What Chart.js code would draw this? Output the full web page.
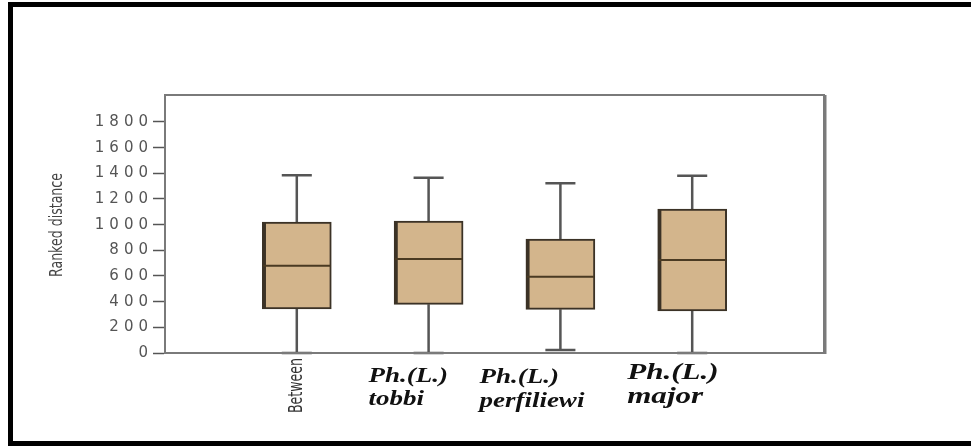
<!DOCTYPE html>
<html>
<head>
<meta charset="utf-8">
<script src="https://cdn.jsdelivr.net/npm/chart.js@4/dist/chart.umd.min.js"></script>
<style>
  html, body { margin: 0; padding: 0; background: #fff; overflow: hidden; }
  #wrap { position: relative; width: 971px; height: 446px; }
  #frame {
    position: absolute; left: 8px; top: 2px; width: 1000px; height: 444px;
    border: 5px solid #000; box-sizing: border-box; pointer-events: none;
  }
  canvas { position: absolute; left: 0; top: 0; }
</style>
</head>
<body>
<div id="wrap">
  <canvas id="chart" width="971" height="446"></canvas>
  <div id="frame"></div>
</div>
<script>
"use strict";
// groups, left to right
const CATEGORIES = ["Between", "Ph.(L.) tobbi", "Ph.(L.) perfiliewi", "Ph.(L.) major"];
const LABEL_LINES = [["Between"], ["Ph.(L.)", "tobbi"], ["Ph.(L.)", "perfiliewi"], ["Ph.(L.)", "major"]];
const POSITIONS = [1, 2, 3, 4];
// box plot values
const WHISKER_MIN = [0, 0, 23, 0];
const Q1 = [343, 379, 340, 327];
const MEDIAN = [680, 732, 595, 725];
const Q3 = [1020, 1028, 888, 1122];
const WHISKER_MAX = [1384, 1366, 1322, 1381];
const Y_TICKS = [0, 200, 400, 600, 800, 1000, 1200, 1400, 1600, 1800];

const CAP_HALF = 0.114;
const MEDIAN_HALF = 0.255;

function segments(makeSeg) {
    const out = [];
    POSITIONS.forEach(function (x, i) {
        makeSeg(x, i).forEach(function (seg) {
            out.push(seg[0], seg[1], { x: seg[1].x, y: null });
        });
    });
    return out;
}

const whiskerData = segments(function (x, i) {
    return [
        [{ x: x, y: Q3[i] }, { x: x, y: WHISKER_MAX[i] }],
        [{ x: x, y: Q1[i] }, { x: x, y: WHISKER_MIN[i] }],
        [{ x: x - CAP_HALF, y: WHISKER_MAX[i] }, { x: x + CAP_HALF, y: WHISKER_MAX[i] }],
        [{ x: x - CAP_HALF, y: WHISKER_MIN[i] }, { x: x + CAP_HALF, y: WHISKER_MIN[i] }],
    ];
});
const medianData = segments(function (x, i) {
    return [[{ x: x - MEDIAN_HALF, y: MEDIAN[i] }, { x: x + MEDIAN_HALF, y: MEDIAN[i] }]];
});

// serif labels are placed left of the tick, as in the original figure
const LABEL_STYLE = [
    { kind: "rot", font: "14px 'Liberation Sans Narrow', 'DejaVu Sans Condensed', sans-serif", top: 358 },
    { kind: "serif", size: 20, dx: -60, base: [382, 405] },
    { kind: "serif", size: 20, dx: -81, base: [383, 407] },
    { kind: "serif", size: 23, dx: -65, base: [379, 403] },
];
const SX = 1.35;

const textPlugin = {
    id: "textPlugin",
    beforeDraw: function (chart) {
        chart.ctx.letterSpacing = "5px";
    },
    beforeDatasetsDraw: function (chart) {
        chart.ctx.letterSpacing = "0px";
    },
    afterDraw: function (chart) {
        const ctx = chart.ctx;
        const a = chart.chartArea;
        ctx.save();
        ctx.letterSpacing = "0px";
        // plot frame
        ctx.strokeStyle = "#7a7a7a";
        ctx.lineWidth = 2;
        ctx.strokeRect(a.left, a.top, a.right - a.left, a.bottom - a.top);
        ctx.lineWidth = 3;
        ctx.beginPath();
        ctx.moveTo(a.right + 1, a.top);
        ctx.lineTo(a.right + 1, a.bottom + 1);
        ctx.stroke();

        // y axis title
        ctx.save();
        ctx.translate(57, 225);
        ctx.scale(1.25, 1);
        ctx.rotate(-Math.PI / 2);
        ctx.fillStyle = "#444";
        ctx.font = "14px 'Liberation Sans Narrow', 'DejaVu Sans Condensed', sans-serif";
        ctx.textAlign = "center";
        ctx.textBaseline = "middle";
        ctx.fillText("Ranked distance", 0, 0);
        ctx.restore();

        // category labels
        const xs = chart.scales.x;
        LABEL_LINES.forEach(function (lines, i) {
            const st = LABEL_STYLE[i];
            const px = xs.getPixelForValue(POSITIONS[i]);
            ctx.save();
            if (st.kind === "rot") {
                ctx.translate(px, st.top);
                ctx.scale(SX, 1);
                ctx.rotate(-Math.PI / 2);
                ctx.fillStyle = "#333";
                ctx.font = st.font;
                ctx.textAlign = "right";
                ctx.textBaseline = "middle";
                ctx.fillText(lines[0], 0, 0);
            } else {
                ctx.fillStyle = "#111";
                ctx.font = "italic bold " + st.size + "px 'Liberation Serif', 'Times New Roman', serif";
                ctx.textAlign = "left";
                ctx.textBaseline = "alphabetic";
                lines.forEach(function (t, j) {
                    ctx.save();
                    ctx.translate(px + st.dx, st.base[j]);
                    ctx.scale(SX, 1);
                    ctx.fillText(t, 0, 0);
                    ctx.restore();
                });
            }
            ctx.restore();
        });
        ctx.restore();
    },
};

const config = {
    type: "bar",
    data: {
        datasets: [
            {
                type: "line",
                label: "whiskers",
                data: whiskerData,
                borderColor: "#555",
                borderWidth: 2.5,
                pointRadius: 0,
                spanGaps: false,
                clip: false,
                order: 2,
            },
            {
                type: "bar",
                label: "box",
                data: POSITIONS.map(function (x, i) {
                    return { x: x, y: [Q1[i], Q3[i]] };
                }),
                backgroundColor: "rgb(211, 181, 140)",
                borderColor: "#3b3226",
                borderWidth: { left: 4, right: 2, top: 2, bottom: 2 },
                borderSkipped: false,
                barThickness: 69,
                order: 1,
            },
            {
                type: "line",
                label: "median",
                data: medianData,
                borderColor: "#4a3a22",
                borderWidth: 2,
                pointRadius: 0,
                spanGaps: false,
                clip: false,
                order: 0,
            },
        ],
    },
    plugins: [textPlugin],
    options: {
        responsive: false,
        animation: false,
        events: [],
        layout: { padding: { left: 0, top: 95, right: 147, bottom: 93 } },
        plugins: { legend: { display: false }, tooltip: { enabled: false } },
        scales: {
            x: {
                type: "linear",
                offset: false,
                min: 0,
                max: 5,
                ticks: { display: false },
                grid: { display: false, offset: false },
                border: { display: true, color: "#7a7a7a", width: 2 },
                afterFit: function (scale) {
                    scale.height = 0;
                },
            },
            y: {
                min: 0,
                max: 2010,
                afterBuildTicks: function (scale) {
                    scale.ticks = Y_TICKS.map(function (v) {
                        return { value: v };
                    });
                },
                afterFit: function (scale) {
                    scale.width = 165;
                },
                ticks: {
                    color: "#555",
                    padding: 0,
                    font: { family: "'DejaVu Sans', sans-serif", size: 15 },
                    callback: function (v) {
                        return String(v);
                    },
                },
                grid: {
                    drawOnChartArea: false,
                    drawTicks: true,
                    tickLength: 12,
                    tickColor: "#555",
                    tickWidth: 1.5,
                },
                border: { display: true, color: "#7a7a7a", width: 2 },
            },
        },
    },
};

new Chart(document.getElementById("chart"), config);
</script>
</body>
</html>
